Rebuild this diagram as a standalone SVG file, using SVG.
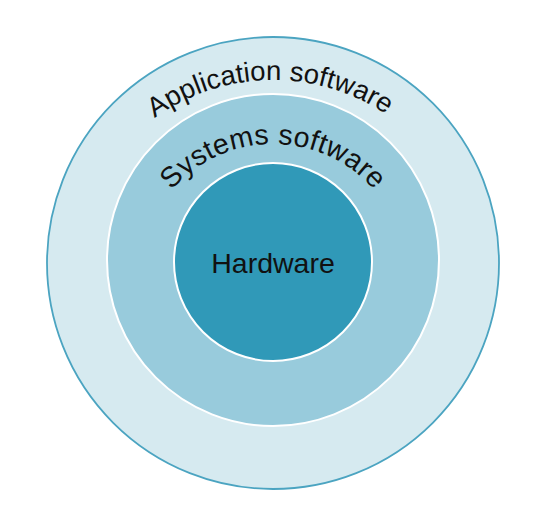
<svg xmlns="http://www.w3.org/2000/svg" width="546" height="526" viewBox="0 0 546 526">
  <style>
    .lbl { font-family: "Liberation Sans", Arial, sans-serif; fill: #111; }
  </style>
  <defs>
    <path id="arcApp" d="M 70 283 A 203 203 0 0 1 476 283"/>
    <path id="arcSys" d="M 139 278 A 134 134 0 0 1 407 278"/>
  </defs>
  <rect width="546" height="526" fill="#ffffff"/>
  <g id="application">
    <circle cx="273" cy="263" r="226" fill="#d6eaf0" stroke="#4ba4c1" stroke-width="1.8"/>
    <text class="lbl" font-size="27.5"><textPath href="#arcApp" startOffset="49.5%" text-anchor="middle">Application software</textPath></text>
  </g>
  <g id="systems">
    <circle cx="273" cy="260" r="166" fill="#98cbdc" stroke="#ffffff" stroke-width="2"/>
    <text class="lbl" font-size="28.5" letter-spacing="0.3"><textPath href="#arcSys" startOffset="50%" text-anchor="middle">Systems software</textPath></text>
  </g>
  <g id="hardware">
    <circle cx="273" cy="262" r="99" fill="#3099b8" stroke="#ffffff" stroke-width="2"/>
    <text class="lbl" x="273" y="273" font-size="28.5" text-anchor="middle">Hardware</text>
  </g>
  <g id="connectors"/>
</svg>
